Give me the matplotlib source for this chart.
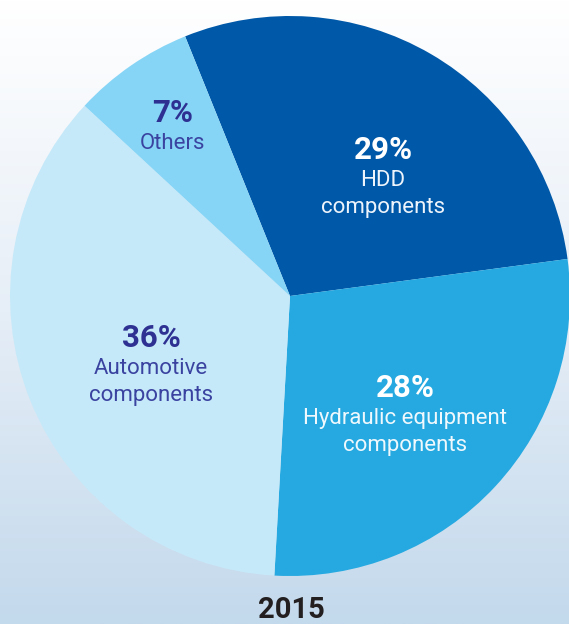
import numpy as np
import matplotlib
matplotlib.use("Agg")
import matplotlib.pyplot as plt
from matplotlib.colors import LinearSegmentedColormap

# slices in drawing order (clockwise from the top-left boundary)
segments = [["HDD", "components"], ["Hydraulic equipment", "components"],
            ["Automotive", "components"], ["Others"]]
shares = [29, 28, 36, 7]
colors = ["#0058a8", "#25a9e0", "#c6e9f9", "#86d5f6"]
pct_colors = ["#ffffff", "#ffffff", "#2e3192", "#2e3192"]
name_colors = ["#eef4fb", "#eef8fd", "#3a43a0", "#3a43a0"]
year = "2015"

W, H = 569, 624
fig = plt.figure(figsize=(W / 100, H / 100), dpi=100)

# background gradient: white at top, pale blue at the bottom
bg = fig.add_axes([0, 0, 1, 1])
grad = np.linspace(0, 1, 256).reshape(-1, 1)
cmap = LinearSegmentedColormap.from_list("bg", ["#ffffff", "#e6eef7", "#c3d9ec"])
bg.imshow(grad, aspect="auto", cmap=cmap, extent=[0, 1, 0, 1], origin="upper")
bg.axis("off")

ax = fig.add_axes([0, 0, 1, 1])
ax.patch.set_alpha(0)
cx, cy, r = 290, H - 296, 280
ax.pie(shares, colors=colors, startangle=112, counterclock=False,
       center=(cx, cy), radius=r, frame=True,
       wedgeprops=dict(linewidth=0))
ax.set_xlim(0, W)
ax.set_ylim(0, H)
ax.set_aspect("equal")
ax.axis("off")

# label anchors: x centre and baseline of the percentage (pixels from top)
pos = [(383, 159), (405, 397), (151, 347), (173, 122)]
fam = ["Roboto", "DejaVu Sans"]
for (x, y), s, lines, pc, nc in zip(pos, shares, segments, pct_colors, name_colors):
    ax.text(x, H - y, f"{s}%", ha="center", va="baseline", fontsize=22.5,
            fontweight="bold", color=pc, family=fam)
    for i, line in enumerate(lines):
        ax.text(x, H - y - 27 * (i + 1), line, ha="center", va="baseline",
                fontsize=16, fontweight="normal", color=nc, family=fam)

ax.text(291, H - 618, year, ha="center", va="baseline", fontsize=21,
        fontweight="bold", color="#231f20", family=fam)

fig.savefig("out.png", dpi=100)
